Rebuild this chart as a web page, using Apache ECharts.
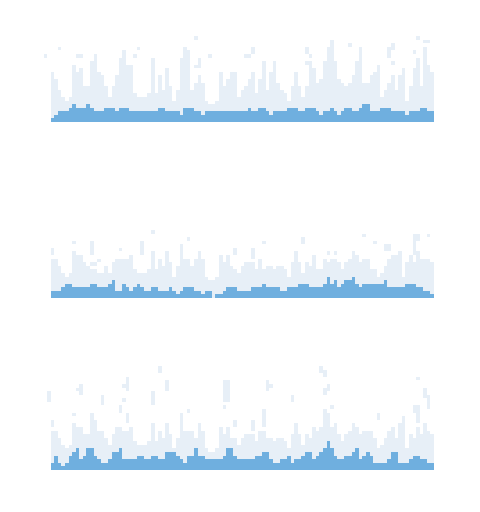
<!DOCTYPE html>
<html><head><meta charset="utf-8">
<script src="https://cdn.jsdelivr.net/npm/echarts@6/dist/echarts.min.js"></script>
<style>html,body{margin:0;padding:0;background:#fff}#c{width:480px;height:512px}</style>
</head><body><div id="c"></div>
<script>
// categories: column index 0..108
const categories = ["0","1","2","3","4","5","6","7","8","9","10","11","12","13","14","15","16","17","18","19","20","21","22","23","24","25","26","27","28","29","30","31","32","33","34","35","36","37","38","39","40","41","42","43","44","45","46","47","48","49","50","51","52","53","54","55","56","57","58","59","60","61","62","63","64","65","66","67","68","69","70","71","72","73","74","75","76","77","78","79","80","81","82","83","84","85","86","87","88","89","90","91","92","93","94","95","96","97","98","99","100","101","102","103","104","105","106","107","108"];

const light1 = [0,0,14,12,9,7,6,7,16,14,15,10,10,17,19,14,13,10,7,10,13,18,20,16,16,8,7,7,7,8,18,8,13,9,15,10,6,9,18,21,20,9,11,13,11,6,5,5,6,14,10,12,14,14,7,9,10,12,14,8,12,17,9,14,17,11,9,8,6,10,14,10,7,10,17,15,11,12,17,21,23,17,12,11,10,11,13,17,21,11,11,13,14,16,7,9,11,13,9,13,15,6,10,15,18,10,21,16,14];
const dark1 = [0,0,1,2,3,3,3,4,5,4,4,4,5,4,3,3,3,4,4,4,3,4,4,4,3,3,3,3,3,3,3,3,4,4,3,3,3,3,2,4,4,4,3,3,2,3,3,3,3,3,3,3,3,3,3,3,3,4,3,3,4,4,3,2,3,3,3,3,4,4,4,3,3,4,4,4,3,2,3,3,4,3,2,3,4,4,3,3,4,5,5,3,3,3,4,4,4,3,3,3,3,2,3,3,3,4,4,3,3];
const cells1 = [[0,18,19],[4,20,21],[9,18,19],[10,18,19],[25,18,19],[26,20,21],[42,23,24],[42,15,16],[43,15,18],[46,18,19],[56,18,19],[57,18,19],[58,19,21],[73,19,21],[73,16,17],[74,18,19],[85,21,22],[96,18,21],[97,20,22],[97,16,17],[103,19,20],[104,23,24],[106,22,23],[107,22,23]];

const light2 = [0,0,11,11,9,7,6,7,13,12,12,10,9,8,8,7,7,9,7,10,11,11,11,11,12,8,7,7,7,8,13,8,11,9,13,10,6,9,15,11,11,9,11,13,11,6,5,5,6,12,10,12,9,8,7,9,10,10,10,8,11,8,9,9,8,9,9,8,6,10,13,10,7,10,9,12,8,8,11,10,11,11,10,8,10,11,13,12,10,11,11,8,8,6,7,9,11,12,12,13,6,10,12,10,13,11,11,11,10];
const dark2 = [0,0,2,2,2,3,4,4,3,3,3,3,3,4,4,3,3,3,4,5,2,2,4,3,2,3,4,3,2,2,3,3,2,2,2,3,2,1,2,3,3,3,2,2,1,2,2,0,1,1,2,3,3,3,2,2,2,2,3,3,3,4,3,3,3,3,2,2,3,3,3,4,4,4,3,3,3,3,4,6,4,5,3,4,5,5,6,4,3,4,4,4,4,4,4,5,3,3,3,3,3,4,4,4,3,3,2,2,1];
const cells2 = [[2,12,14],[8,15,16],[13,12,16],[13,9,10],[14,9,10],[15,10,11],[21,13,14],[27,12,16],[30,18,19],[40,16,17],[53,12,14],[58,11,14],[61,15,16],[72,15,17],[79,12,13],[81,12,13],[89,17,18],[92,15,16],[95,13,15],[96,13,15],[103,12,18],[104,16,18],[107,17,18]];

const light3 = [0,0,11,11,9,7,6,7,13,12,12,10,10,16,14,11,11,9,7,10,12,12,11,11,12,8,7,7,7,8,13,8,11,9,13,10,6,9,16,11,11,11,9,13,11,6,5,5,6,12,10,12,9,9,7,9,10,10,10,8,11,11,9,9,8,9,9,8,6,10,13,10,7,10,9,12,11,12,17,16,12,13,10,8,10,11,13,12,10,11,11,11,9,6,7,9,11,12,9,13,15,6,10,9,12,10,13,11,10];
const dark3 = [0,0,2,4,2,1,2,4,5,6,3,4,6,6,4,3,2,2,3,5,5,6,3,3,3,3,4,4,3,3,4,4,3,3,5,5,5,4,3,2,4,4,6,4,4,3,3,3,3,3,4,6,6,4,3,3,3,3,3,4,4,5,5,3,2,2,3,3,4,2,3,3,4,5,5,3,4,5,6,8,6,4,3,3,4,4,5,6,3,4,5,4,2,2,2,2,3,5,5,2,2,2,3,4,4,3,3,2,2];
const cells3 = [[1,19,22],[2,12,14],[8,15,16],[9,22,23],[10,21,24],[16,18,21],[21,16,18],[22,19,20],[22,23,24],[23,22,26],[23,13,16],[30,18,22],[32,27,29],[34,22,25],[40,16,17],[50,19,25],[50,17,18],[51,19,25],[53,12,14],[58,11,14],[61,12,17],[62,22,25],[63,23,24],[69,19,21],[77,27,29],[78,26,28],[78,21,23],[79,22,24],[80,17,18],[93,14,16],[103,16,18],[104,13,18],[104,25,26],[106,20,23],[107,17,21]];

const yMax = [24, 19, 29];

const LIGHT = '#e7eff7';
const DARK = '#6fafdf';

const panels = [
  {light: light1, dark: dark1, cells: cells1, top: 36, height: 86},
  {light: light2, dark: dark2, cells: cells2, top: 230, height: 68},
  {light: light3, dark: dark3, cells: cells3, top: 366, height: 104}
];

// a snapped rectangle spanning one category column between two values
function cellRenderer(color) {
  return function (params, api) {
    const x = api.value(0), lo = api.value(1), hi = api.value(2);
    if (hi <= lo) return null;
    const a = api.coord([x, hi]);
    const b = api.coord([x, lo]);
    const w = api.size([1, 0])[0];
    const x0 = Math.round(a[0] - w / 2), x1 = Math.round(a[0] + w / 2);
    const y0 = Math.round(a[1]), y1 = Math.round(b[1]);
    return {
      type: 'rect',
      shape: {x: x0, y: y0, width: x1 - x0, height: y1 - y0},
      style: {fill: color}
    };
  };
}

const grids = [], xAxes = [], yAxes = [], series = [];
panels.forEach((p, i) => {
  grids.push({left: 43.5, width: 390.5, top: p.top, height: p.height});
  xAxes.push({type: 'category', gridIndex: i, data: categories, show: false, boundaryGap: true});
  yAxes.push({type: 'value', gridIndex: i, min: 0, max: yMax[i], show: false, splitLine: {show: false}});
  series.push({
    type: 'custom', xAxisIndex: i, yAxisIndex: i, silent: true,
    data: p.light.map((v, k) => [k, 0, v]),
    encode: {x: 0, y: [1, 2]},
    renderItem: cellRenderer(LIGHT)
  });
  series.push({
    type: 'custom', xAxisIndex: i, yAxisIndex: i, silent: true,
    data: p.cells,
    encode: {x: 0, y: [1, 2]},
    renderItem: cellRenderer(LIGHT)
  });
  series.push({
    type: 'custom', xAxisIndex: i, yAxisIndex: i, silent: true,
    data: p.dark.map((v, k) => [k, 0, v]),
    encode: {x: 0, y: [1, 2]},
    renderItem: cellRenderer(DARK)
  });
});

const chart = echarts.init(document.getElementById('c'), null, {renderer: 'canvas'});
chart.setOption({
  animation: false,
  backgroundColor: '#ffffff',
  grid: grids,
  xAxis: xAxes,
  yAxis: yAxes,
  series: series
});
</script>
</body></html>
